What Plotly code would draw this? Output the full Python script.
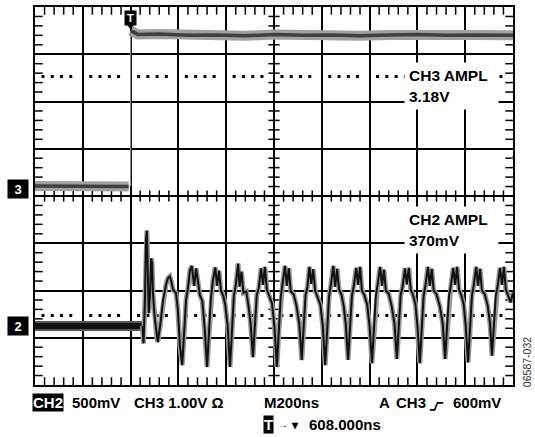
import plotly.graph_objects as go

# ---------------- data (screen divisions: x 0..10, y 0..8) ----------------
trigger_x = 2.0
ch3_ground = 4.21
ch3_trig_level = 4.81          # 600 mV above CH3 ground at 1 V/div
ch2_ground = 1.25

ch3_pre_x = [0.0, 1.96]
ch3_pre_y = [4.21, 4.20]
ch3_edge_x = [2.0, 2.0]
ch3_edge_y = [4.21, 7.48]
ch3_post_x = [2.0, 2.15, 2.6, 3.2, 3.8, 4.4, 5.0, 5.6, 6.2, 6.8, 7.4, 8.0, 8.6, 9.2, 10.0]
ch3_post_y = [7.50, 7.42, 7.43, 7.40, 7.41, 7.39, 7.42, 7.40, 7.41, 7.39, 7.41, 7.42, 7.40, 7.41, 7.40]

ch2_pre_x = [0.0, 2.25]
ch2_pre_y = [1.25, 1.25]

ch2_x = [2.25, 2.27, 2.30, 2.32, 2.34, 2.36, 2.38, 2.41, 2.43, 2.45, 2.47, 2.51, 2.55, 2.57,
         2.62, 2.68, 2.74, 2.78, 2.82, 2.85, 2.89, 2.95, 2.99, 3.03,
         3.08, 3.12, 3.16, 3.20, 3.24, 3.28, 3.33, 3.37, 3.41, 3.45, 3.50, 3.55,
         3.60, 3.64, 3.68, 3.72, 3.77, 3.81, 3.85, 3.89, 3.94, 3.98, 4.03,
         4.08, 4.12, 4.16, 4.20, 4.25, 4.28, 4.32, 4.36, 4.42, 4.47, 4.51,
         4.56, 4.60, 4.64, 4.68, 4.73, 4.77, 4.81, 4.85, 4.90, 4.96, 5.01,
         5.06, 5.10, 5.14, 5.18, 5.23, 5.27, 5.31, 5.35, 5.41, 5.47, 5.53,
         5.58, 5.62, 5.66, 5.70, 5.74, 5.78, 5.82, 5.86, 5.91, 5.97, 6.02,
         6.07, 6.11, 6.15, 6.19, 6.24, 6.28, 6.32, 6.36, 6.41, 6.46, 6.50,
         6.55, 6.59, 6.63, 6.67, 6.72, 6.76, 6.80, 6.84, 6.89, 6.95, 7.00,
         7.05, 7.09, 7.13, 7.17, 7.22, 7.26, 7.30, 7.34, 7.40, 7.46, 7.52,
         7.57, 7.61, 7.65, 7.69, 7.74, 7.78, 7.82, 7.86, 7.91, 7.96, 8.00,
         8.05, 8.09, 8.13, 8.17, 8.22, 8.26, 8.30, 8.34, 8.40, 8.47, 8.53,
         8.58, 8.62, 8.66, 8.70, 8.75, 8.79, 8.83, 8.87, 8.92, 8.97, 9.01,
         9.06, 9.10, 9.14, 9.18, 9.23, 9.27, 9.31, 9.35, 9.41, 9.47, 9.52,
         9.56, 9.60, 9.64, 9.68, 9.73, 9.77, 9.81, 9.85, 9.90, 9.95, 10.0]
ch2_y = [1.25, 0.88, 1.80, 3.05, 3.27, 2.60, 1.52, 2.00, 2.68, 2.58, 1.90, 1.36, 0.99, 0.91,
         1.27, 1.80, 2.12, 2.26, 2.30, 2.20, 2.01, 1.95, 1.58, 0.85,
         0.42, 1.06, 1.80, 2.05, 2.42, 2.52, 2.10, 2.47, 2.15, 1.90, 1.78, 1.20,
         0.38, 1.05, 1.84, 2.20, 2.49, 2.10, 2.42, 2.00, 1.88, 1.70, 1.25,
         0.38, 1.10, 1.88, 2.12, 2.57, 2.08, 2.40, 1.95, 1.98, 1.65, 1.30,
         0.59, 1.15, 1.90, 2.05, 2.47, 2.12, 2.50, 2.02, 1.90, 1.72, 1.22,
         0.38, 1.12, 1.85, 2.15, 2.52, 2.10, 2.47, 1.98, 1.92, 1.68, 1.28,
         0.53, 1.14, 1.90, 2.08, 2.50, 2.14, 2.45, 2.00, 1.88, 1.70, 1.25,
         0.42, 1.10, 1.86, 2.12, 2.52, 2.08, 2.46, 2.02, 1.92, 1.66, 1.30,
         0.53, 1.16, 1.88, 2.10, 2.48, 2.12, 2.50, 2.00, 1.90, 1.70, 1.24,
         0.46, 1.12, 1.87, 2.14, 2.50, 2.10, 2.44, 2.00, 1.93, 1.68, 1.30,
         0.55, 1.15, 1.90, 2.08, 2.47, 2.13, 2.48, 2.02, 1.90, 1.70, 1.26,
         0.46, 1.12, 1.88, 2.12, 2.50, 2.10, 2.46, 2.00, 1.92, 1.66, 1.30,
         0.55, 1.15, 1.88, 2.10, 2.48, 2.12, 2.50, 2.02, 1.90, 1.70, 1.26,
         0.48, 1.12, 1.88, 2.12, 2.50, 2.10, 2.46, 2.00, 1.92, 1.68, 1.30,
         0.62, 1.15, 1.88, 2.10, 2.48, 2.12, 2.50, 2.02, 1.90, 1.75, 1.95]

ch3_cursor_y = 6.53
ch2_cursor_y = 1.47
minor_ticks = [0.2, 0.4, 0.6, 0.8, 1.2, 1.4, 1.6, 1.8, 2.2, 2.4, 2.6, 2.8, 3.2, 3.4, 3.6, 3.8,
               4.2, 4.4, 4.6, 4.8, 5.2, 5.4, 5.6, 5.8, 6.2, 6.4, 6.6, 6.8, 7.2, 7.4, 7.6, 7.8,
               8.2, 8.4, 8.6, 8.8, 9.2, 9.4, 9.6, 9.8]
minor_ticks_y = [v for v in minor_ticks if v < 8]

FONT = "Liberation Sans, Arial, sans-serif"

fig = go.Figure()

# cursor dotted lines (4 dots per division, gap at graticule lines)
dot_dash = "3px,6.3px,3px,6.3px,3px,6.2px,3px,17px"
for cy in (ch3_cursor_y, ch2_cursor_y):
    fig.add_trace(go.Scatter(x=[0.135, 10], y=[cy, cy], mode="lines",
                             line=dict(color="black", width=3, dash=dot_dash),
                             hoverinfo="skip"))

# centre-line minor ticks
fig.add_trace(go.Scatter(x=minor_ticks, y=[4] * len(minor_ticks), mode="markers",
                         marker=dict(symbol="line-ns", size=8, line=dict(color="black", width=1.5)),
                         hoverinfo="skip"))
fig.add_trace(go.Scatter(x=[5] * len(minor_ticks_y), y=minor_ticks_y, mode="markers",
                         marker=dict(symbol="line-ew", size=8, line=dict(color="black", width=1.5)),
                         hoverinfo="skip"))
# border minor ticks (half hidden by clipping => inward ticks)
fig.add_trace(go.Scatter(x=minor_ticks + minor_ticks, y=[0] * len(minor_ticks) + [8] * len(minor_ticks),
                         mode="markers",
                         marker=dict(symbol="line-ns", size=11, line=dict(color="black", width=1.5)),
                         hoverinfo="skip"))
fig.add_trace(go.Scatter(x=[0] * len(minor_ticks_y) + [10] * len(minor_ticks_y), y=minor_ticks_y + minor_ticks_y,
                         mode="markers",
                         marker=dict(symbol="line-ew", size=11, line=dict(color="black", width=1.5)),
                         hoverinfo="skip"))

# CH3 trace
for xs, ys in ((ch3_pre_x, ch3_pre_y), (ch3_post_x, ch3_post_y)):
    fig.add_trace(go.Scatter(x=xs, y=ys, mode="lines", line=dict(color="#a0a0a0", width=10), hoverinfo="skip"))
    fig.add_trace(go.Scatter(x=xs, y=ys, mode="lines", line=dict(color="#404040", width=3.5), hoverinfo="skip"))
fig.add_trace(go.Scatter(x=ch3_edge_x, y=ch3_edge_y, mode="lines", line=dict(color="#888", width=1.2), hoverinfo="skip"))

# CH2 trace
fig.add_trace(go.Scatter(x=ch2_pre_x, y=ch2_pre_y, mode="lines", line=dict(color="#555", width=10), hoverinfo="skip"))
fig.add_trace(go.Scatter(x=ch2_pre_x, y=ch2_pre_y, mode="lines", line=dict(color="#111", width=6), hoverinfo="skip"))
fig.add_trace(go.Scatter(x=ch2_x, y=ch2_y, mode="lines", line=dict(color="#9a9a9a", width=5), hoverinfo="skip"))
fig.add_trace(go.Scatter(x=ch2_x, y=ch2_y, mode="lines", line=dict(color="#111", width=2), hoverinfo="skip"))

# trigger markers
fig.add_trace(go.Scatter(x=[trigger_x], y=[7.62], mode="markers",
                         marker=dict(symbol="triangle-down", size=9, color="black"), hoverinfo="skip"))
fig.add_trace(go.Scatter(x=[9.93], y=[ch3_trig_level], mode="markers",
                         marker=dict(symbol="arrow-left", size=10, color="#777"), hoverinfo="skip"))
fig.add_trace(go.Scatter(x=[-0.07], y=[ch3_ground - 0.06], mode="markers", cliponaxis=False,
                         marker=dict(symbol="triangle-right", size=10, color="black"), hoverinfo="skip"))

ann = []
# measurement boxes
for txt, yc in (("CH3 AMPL<br>3.18V", 6.32), ("CH2 AMPL<br>370mV", 3.27)):
    ann.append(dict(x=8.71, y=yc, xref="x", yref="y", text=txt, showarrow=False,
                    font=dict(family=FONT, size=15.5, color="black", weight="bold"),
                    align="left", bgcolor="white", width=85, height=38, borderpad=4,
                    xanchor="center", yanchor="middle"))
# channel markers on left
for txt, yc in (("3", ch3_ground - 0.06), ("2", ch2_ground - 0.01)):
    ann.append(dict(x=-0.0356, y=yc, xref="paper", yref="y", text=txt, showarrow=False,
                    font=dict(family=FONT, size=13, color="white", weight="bold"),
                    bgcolor="black", width=16, height=14, borderpad=2,
                    xanchor="center", yanchor="middle"))
# trigger T at top
ann.append(dict(x=trigger_x, y=8, xref="x", yref="y", text="T", showarrow=False,
                font=dict(family=FONT, size=11, color="white", weight="bold"),
                bgcolor="black", borderpad=1, width=9, height=12,
                xanchor="center", yanchor="top", yshift=-3))

# bottom readouts
row1 = -0.0474
row2 = -0.105
def label(x, y, text, inverted=False, size=15):
    ann.append(dict(x=x, y=y, xref="paper", yref="paper", text=text, showarrow=False,
                    font=dict(family=FONT, size=size, color="white" if inverted else "black", weight="bold"),
                    bgcolor="black" if inverted else None, borderpad=0,
                    xanchor="left", yanchor="middle"))

label(-0.0063, row1, "CH2", inverted=True)
label(0.0745, row1, "500mV")
label(0.205, row1, "CH3 1.00V Ω")
label(0.477, row1, "M200ns")
label(0.7176, row1, "A")
label(0.7535, row1, "CH3")
label(0.872, row1, "600mV")
label(0.477, row2, "T", inverted=True)
label(0.506, row2, "→", size=10)
label(0.533, row2, "▾", size=12)
label(0.571, row2, "608.000ns")

ann.append(dict(x=1.031, y=0.06, xref="paper", yref="paper", text="06587-032", showarrow=False,
                textangle=-90, font=dict(family=FONT, size=10.5, color="#333"),
                xanchor="center", yanchor="middle"))

# rising-edge trigger symbol
shapes = [dict(type="path", xref="paper", yref="paper",
               path="M 0.826 -0.0658 L 0.836 -0.0658 L 0.842 -0.0474 L 0.854 -0.0474",
               line=dict(color="black", width=1.6))]

fig.update_layout(
    width=535, height=437,
    margin=dict(l=35, r=22, t=5, b=52),
    paper_bgcolor="white", plot_bgcolor="white",
    showlegend=False,
    annotations=ann, shapes=shapes,
    xaxis=dict(range=[0, 10], dtick=1, tick0=0, showgrid=True, gridcolor="black", gridwidth=1.6,
               zeroline=False, showticklabels=False, ticks="", showline=True, linecolor="black",
               linewidth=2.2, mirror=True, fixedrange=True),
    yaxis=dict(range=[0, 8], dtick=1, tick0=0, showgrid=True, gridcolor="black", gridwidth=1.6,
               zeroline=False, showticklabels=False, ticks="", showline=True, linecolor="black",
               linewidth=2.2, mirror=True, fixedrange=True),
)

fig.write_html("out.html", config={"displayModeBar": False},
               post_script="document.body.style.margin='0px';")
